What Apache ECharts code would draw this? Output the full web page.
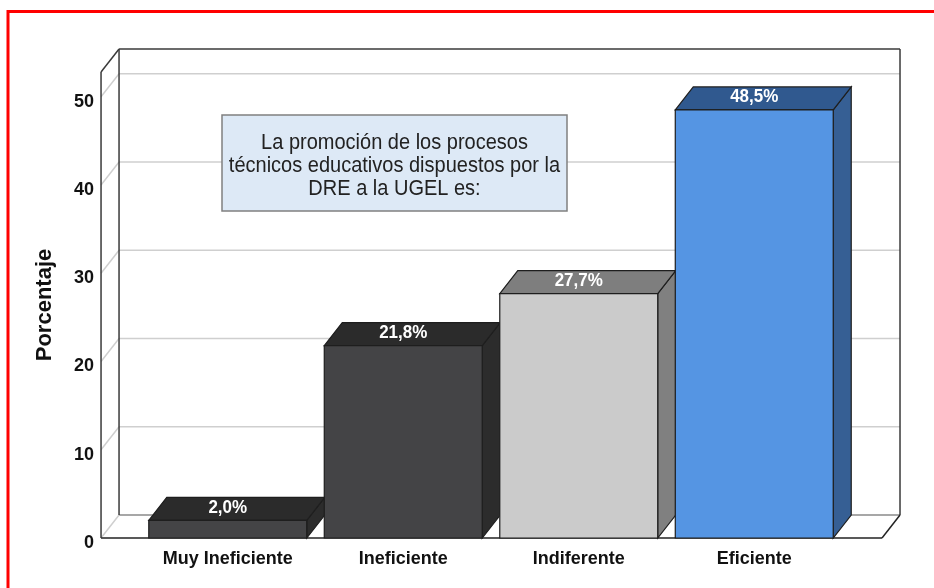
<!DOCTYPE html>
<html>
<head>
<meta charset="utf-8">
<script src="https://cdn.jsdelivr.net/npm/echarts@6/dist/echarts.min.js"></script>
<style>
    html, body { margin: 0; padding: 0; background: #fff; }
    #chart { width: 934px; height: 588px; }
</style>
</head>
<body>
<div id="chart"></div>
<script>
var categories = ['Muy Ineficiente', 'Ineficiente', 'Indiferente', 'Eficiente'];
var percentages = [2.0, 21.8, 27.7, 48.5];
var gridTicks = [0, 10, 20, 30, 40, 50];
var noteLines = ['La promoción de los procesos', 'técnicos educativos dispuestos por la', 'DRE a la UGEL es:'];

// colores de cada barra: frente, tapa, lado
var barColors = [
    { front: '#444446', top: '#2b2b2b', side: '#2c2c2c' },
    { front: '#444446', top: '#2b2b2b', side: '#2c2c2c' },
    { front: '#cbcbcb', top: '#7e7e7e', side: '#808080' },
    { front: '#5595e3', top: '#30598f', side: '#365f94' }
];

var DX = 18, DY = -23;       // profundidad 3D
var Y_MAX = 52.8;
var FONT = '"Liberation Sans", Arial, sans-serif';

var myChart = echarts.init(document.getElementById('chart'));

function frameBounds(params, api) {
    var cs = params.coordSys;
    var band = api.size([1, 0])[0];
    return { L: cs.x - band * 0.222, R: cs.x + cs.width + band * 0.228 };
}

function line(x1, y1, x2, y2, color, w) {
    return { type: 'line', shape: { x1: x1, y1: y1, x2: x2, y2: y2 }, style: { stroke: color, lineWidth: w } };
}

// lineas de division en la pared del fondo
function renderGridLine(params, api) {
    var b = frameBounds(params, api);
    var y = api.coord([0, api.value(1)])[1];
    var children = [
        line(b.L + DX, y + DY, b.R + DX, y + DY, api.value(1) === 0 ? '#8a8a8a' : '#cfcfcf', 1.5),
        line(b.L, y, b.L + DX, y + DY, '#cfcfcf', 1.5)
    ];
    if (api.value(1) === 0) {
        children.push(line(b.L, y, b.R, y, '#222', 1.5));
        children.push(line(b.R, y, b.R + DX, y + DY, '#222', 1.5));
    }
    return { type: 'group', children: children };
}

// caja exterior
function renderFrame(params, api) {
    var b = frameBounds(params, api);
    var yTop = api.coord([0, api.value(1)])[1];
    var y0 = api.coord([0, 0])[1];
    var c = '#3a3a3a';
    return {
        type: 'group',
        children: [
            line(b.L, yTop, b.L, y0, c, 1.5),
            line(b.L + DX, yTop + DY, b.L + DX, y0 + DY, c, 1.5),
            line(b.L, yTop, b.L + DX, yTop + DY, c, 1.5),
            line(b.L + DX, yTop + DY, b.R + DX, yTop + DY, c, 1.5),
            line(b.R + DX, yTop + DY, b.R + DX, y0 + DY, c, 1.5)
        ]
    };
}

function renderBar(params, api) {
    var i = api.value(0);
    var v = api.value(1);
    var top = api.coord([i, v]);
    var base = api.coord([i, 0]);
    var hw = api.size([1, 0])[0] * 0.45;
    var x0 = top[0] - hw, x1 = top[0] + hw;
    var c = barColors[i];
    var edge = '#1e1e1e';
    return {
        type: 'group',
        children: [
            { type: 'polygon', shape: { points: [[x1, top[1]], [x1 + DX, top[1] + DY], [x1 + DX, base[1] + DY], [x1, base[1]]] },
              style: { fill: c.side, stroke: edge, lineWidth: 1.2 } },
            { type: 'polygon', shape: { points: [[x0, top[1]], [x1, top[1]], [x1 + DX, top[1] + DY], [x0 + DX, top[1] + DY]] },
              style: { fill: c.top, stroke: edge, lineWidth: 1.2 } },
            { type: 'rect', shape: { x: x0, y: top[1], width: 2 * hw, height: base[1] - top[1] },
              style: { fill: c.front, stroke: edge, lineWidth: 1.2 } },
            { type: 'text', x: top[0], y: top[1] - 13, scaleY: 1.1,
              style: { text: v.toFixed(1).replace('.', ',') + '%', fill: '#fff', font: 'bold 17px ' + FONT,
                       align: 'center', verticalAlign: 'middle' } }
        ]
    };
}

var option = {
    animation: false,
    grid: { left: 140, right: 92, top: 72, bottom: 50 },
    xAxis: {
        type: 'category',
        data: categories,
        axisLine: { show: false },
        axisTick: { show: false },
        axisLabel: { color: '#111', fontWeight: 'bold', fontSize: 18, fontFamily: FONT, margin: 12 }
    },
    yAxis: {
        type: 'value',
        min: 0,
        max: Y_MAX,
        interval: 10,
        name: 'Porcentaje',
        nameLocation: 'middle',
        nameGap: 84,
        nameTextStyle: { color: '#111', fontWeight: 'bold', fontSize: 22, fontFamily: FONT },
        splitLine: { show: false },
        axisLine: { show: false },
        axisTick: { show: false },
        axisLabel: {
            color: '#111', fontWeight: 'bold', fontSize: 18, fontFamily: FONT, margin: 46,
            verticalAlign: 'top', lineHeight: 10,
            formatter: function (v) { return v % 10 === 0 ? String(v) : ''; }
        }
    },
    graphic: [
        { type: 'rect', shape: { x: 8, y: 11.5, width: 1000, height: 1000 },
          style: { fill: 'none', stroke: '#ff0000', lineWidth: 3 }, z: 100 },
        { type: 'rect', shape: { x: 222, y: 115, width: 345, height: 96 },
          style: { fill: '#dde9f6', stroke: '#808080', lineWidth: 1.5 }, z: 50 },
        { type: 'text', x: 394.5, y: 166, z: 51, scaleY: 1.06,
          style: { text: noteLines.join('\n'), font: '20px ' + FONT, fill: '#222', align: 'center',
                   verticalAlign: 'middle', lineHeight: 22 } }
    ],
    series: [
        { type: 'custom', name: 'grid', renderItem: renderGridLine, z: 1,
          data: gridTicks.map(function (t) { return [0, t]; }) },
        { type: 'custom', name: 'frame', renderItem: renderFrame, z: 2,
          data: [[0, Y_MAX]] },
        { type: 'custom', name: 'Porcentaje', renderItem: renderBar, z: 3,
          data: percentages.map(function (p, i) { return [i, p]; }) }
    ]
};

myChart.setOption(option);
</script>
</body>
</html>
